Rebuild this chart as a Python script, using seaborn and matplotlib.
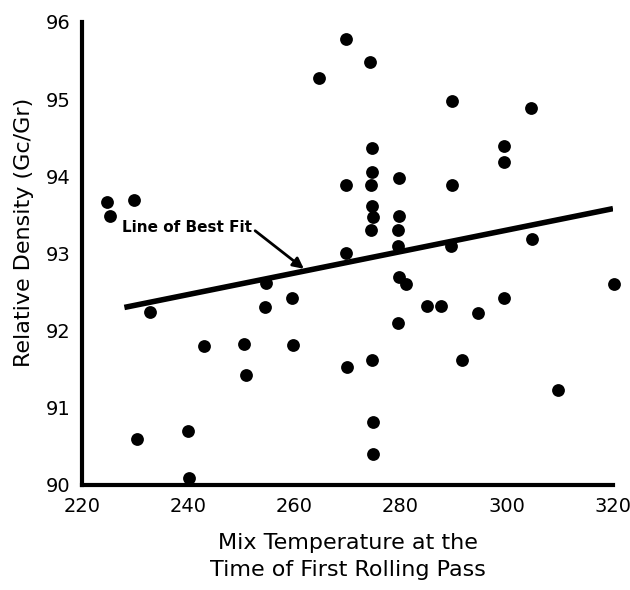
import matplotlib
matplotlib.use("Agg")
import matplotlib.pyplot as plt
import seaborn as sns
import pandas as pd

# --- data ---
temperature = [224.7, 225.2, 229.9, 232.9, 230.3, 240.0, 240.2, 243.0, 250.6, 250.9,
               254.5, 254.6, 259.5, 259.8, 269.8, 270.0, 264.6, 269.7, 269.7, 274.2,
               289.7, 304.5, 274.6, 299.4, 299.5, 274.6, 279.7, 274.5, 289.7, 274.6,
               274.8, 279.7, 274.5, 279.6, 304.7, 279.6, 279.7, 281.1, 284.9, 287.7,
               294.5, 299.5, 320.2, 279.5, 274.6, 291.5, 309.7, 274.8, 274.8, 289.5]
density = [93.66, 93.48, 93.69, 92.24, 90.60, 90.70, 90.09, 91.80, 91.83, 91.42,
           92.31, 92.62, 92.42, 91.81, 93.00, 91.53, 95.27, 95.78, 93.89, 95.48,
           94.97, 94.88, 94.37, 94.39, 94.18, 94.06, 93.98, 93.89, 93.88, 93.61,
           93.47, 93.49, 93.30, 93.30, 93.19, 93.10, 92.70, 92.60, 92.32, 92.32,
           92.23, 92.42, 92.60, 92.10, 91.62, 91.62, 91.23, 90.81, 90.40, 93.10]
fit_x = [228.0, 320.0]
fit_y = [92.30, 93.58]
x_ticks = [220, 240, 260, 280, 300, 320]
y_ticks = [90, 91, 92, 93, 94, 95, 96]
x_label = "Mix Temperature at the\nTime of First Rolling Pass"
y_label = "Relative Density (Gc/Gr)"
annot_text = "Line of Best Fit"

sns.set_style("white")
plt.rcParams['font.family'] = ['DejaVu Sans']
plt.rcParams['text.color'] = 'black'
plt.rcParams['axes.labelcolor'] = 'black'

df = pd.DataFrame({"t": temperature, "d": density})
fit = pd.DataFrame({"t": fit_x, "d": fit_y})

fig = plt.figure(figsize=(6.3, 5.9), dpi=100)
ax = fig.add_axes([0.130, 0.178, 0.843, 0.785])

sns.lineplot(data=fit, x="t", y="d", ax=ax, color="black", linewidth=4.0,
             solid_capstyle="butt", zorder=2)
sns.scatterplot(data=df, x="t", y="d", ax=ax, color="black", s=85,
                edgecolor="black", linewidth=0, clip_on=False, zorder=3)

ax.set_xlim(220, 320)
ax.set_ylim(90, 96)
ax.set_xticks(x_ticks)
ax.set_yticks(y_ticks)
ax.tick_params(axis="both", direction="in", length=8, width=2.2,
               labelsize=14, color="black", labelcolor="black")
ax.tick_params(axis="x", pad=9)
ax.tick_params(axis="y", pad=8)

for side in ["top", "right"]:
    ax.spines[side].set_visible(False)
for side in ["left", "bottom"]:
    ax.spines[side].set_linewidth(3)
    ax.spines[side].set_color("black")

ax.set_xlabel(x_label, fontsize=16, linespacing=1.4, labelpad=12, color="black")
ax.set_ylabel(y_label, fontsize=16, color="black")
ax.yaxis.set_label_coords(-0.09, 0.545)

ax.annotate(annot_text, xy=(261.8, 92.80), xytext=(252.0, 93.33),
            fontsize=11, fontweight="bold", va="center", ha="right", color="black",
            arrowprops=dict(arrowstyle="-|>", color="black", lw=2,
                            mutation_scale=16, shrinkA=0, shrinkB=0,
                            connectionstyle="angle,angleA=0,angleB=-38,rad=0"))

fig.savefig("out.png", dpi=100)
